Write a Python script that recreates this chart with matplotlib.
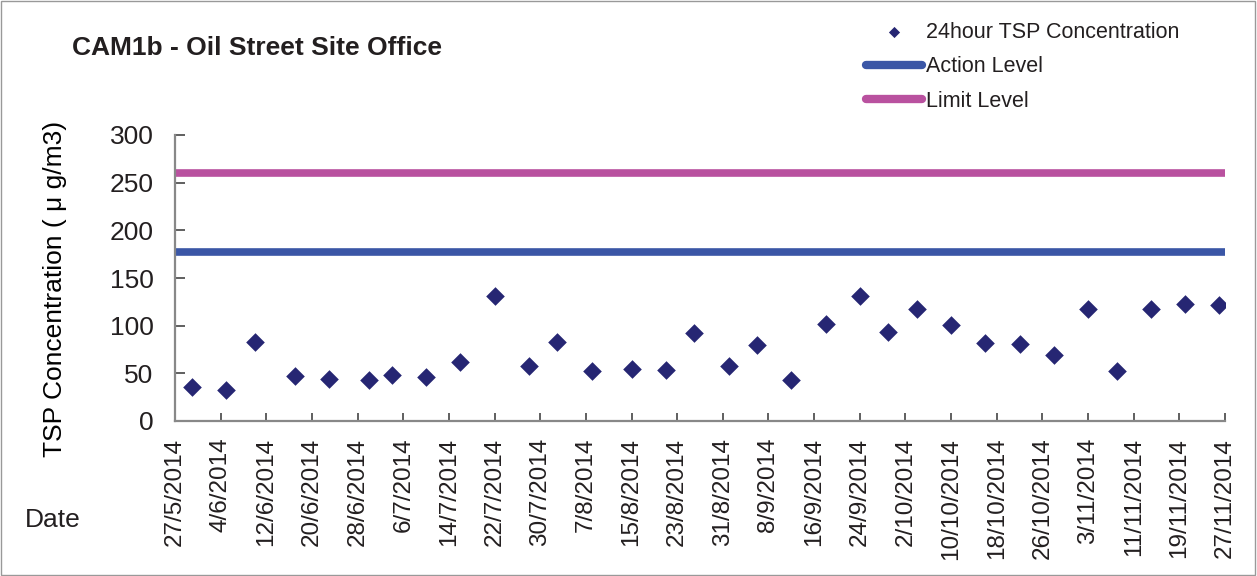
import matplotlib
matplotlib.use("Agg")
import matplotlib.pyplot as plt
from matplotlib.patches import Rectangle
import pandas as pd

plt.rcParams['font.family'] = ['Liberation Sans', 'DejaVu Sans']
plt.rcParams['text.color'] = '#231F20'

title = "CAM1b - Oil Street Site Office"
dates = ["2014-05-30", "2014-06-05", "2014-06-10", "2014-06-17", "2014-06-23",
         "2014-06-30", "2014-07-04", "2014-07-10", "2014-07-16", "2014-07-22",
         "2014-07-28", "2014-08-02", "2014-08-08", "2014-08-15", "2014-08-21",
         "2014-08-26", "2014-09-01", "2014-09-06", "2014-09-12", "2014-09-18",
         "2014-09-24", "2014-09-29", "2014-10-04", "2014-10-10", "2014-10-16",
         "2014-10-22", "2014-10-28", "2014-11-03", "2014-11-08", "2014-11-14",
         "2014-11-20", "2014-11-26"]
tsp = [36, 33, 83, 47, 44, 43, 48, 46, 62, 131,
       58, 83, 52, 55, 54, 92, 58, 80, 43, 102,
       131, 93, 118, 101, 82, 81, 69, 117, 52, 117,
       123, 122]
action_level = 177
limit_level = 260
tick_labels = ["27/5/2014", "4/6/2014", "12/6/2014", "20/6/2014", "28/6/2014",
               "6/7/2014", "14/7/2014", "22/7/2014", "30/7/2014", "7/8/2014",
               "15/8/2014", "23/8/2014", "31/8/2014", "8/9/2014", "16/9/2014",
               "24/9/2014", "2/10/2014", "10/10/2014", "18/10/2014", "26/10/2014",
               "3/11/2014", "11/11/2014", "19/11/2014", "27/11/2014"]

x = pd.to_datetime(dates)
tick_pos = pd.to_datetime(tick_labels, format="%d/%m/%Y")
start, end = tick_pos[0], tick_pos[-1]

fig = plt.figure(figsize=(12.57, 5.76), dpi=100)
ax = fig.add_axes([175 / 1257, 1 - 421 / 576, 1050 / 1257, 286 / 576])

ax.plot([start, end], [limit_level, limit_level], color="#B9519F", lw=5.5,
        solid_capstyle="butt", label="Limit Level", zorder=2)
ax.plot([start, end], [action_level, action_level], color="#3A56A6", lw=5.5,
        solid_capstyle="butt", label="Action Level", zorder=2)
ax.scatter(x, tsp, marker="D", s=90, color="#262673", zorder=3,
           label="24hour TSP Concentration", linewidths=0)

ax.set_xlim(start, end)
ax.set_ylim(0, 300)
ax.set_yticks([0, 50, 100, 150, 200, 250, 300])
ax.set_xticks(tick_pos)
ax.set_xticklabels(tick_labels, rotation=90, fontsize=17.5)
ax.tick_params(axis="y", labelsize=19, direction="in", length=7, color="#444444",
               width=1.2, pad=15.5, labelcolor="#231F20")
ax.tick_params(axis="x", direction="in", length=6, color="#444444", width=1.2,
               pad=12, labelcolor="#231F20")
for s in ["top", "right"]:
    ax.spines[s].set_visible(False)
for s in ["left", "bottom"]:
    ax.spines[s].set_color("#888888")
    ax.spines[s].set_linewidth(1.6)

ax.set_ylabel("TSP Concentration ( \u03bc g/m3)", fontsize=19)
ax.yaxis.set_label_coords(-(175 - 67) / 1050, (421 - 289) / 286)

fig.text(72 / 1257, 1 - 48 / 576, title, fontsize=19, fontweight="bold", va="center", ha="left")
fig.text(25 / 1257, 1 - 520 / 576, "Date", fontsize=19, va="center", ha="left")

h, l = ax.get_legend_handles_labels()
order = [2, 1, 0]
leg = fig.legend([h[i] for i in order], [l[i] for i in order],
                 loc="upper left", bbox_to_anchor=(866 / 1257, 1 - 22 / 576),
                 frameon=False, fontsize=15.5, handlelength=2.6, handletextpad=0.2,
                 labelspacing=0.62, borderaxespad=0, borderpad=0, markerscale=0.6)
for line in leg.get_lines():
    line.set_solid_capstyle("round")
    line.set_linewidth(6)

fig.add_artist(Rectangle((0.0005, 0.001), 0.998, 0.997, transform=fig.transFigure,
                         fill=False, edgecolor="#999999", lw=1))

fig.savefig("out.png", dpi=100)
